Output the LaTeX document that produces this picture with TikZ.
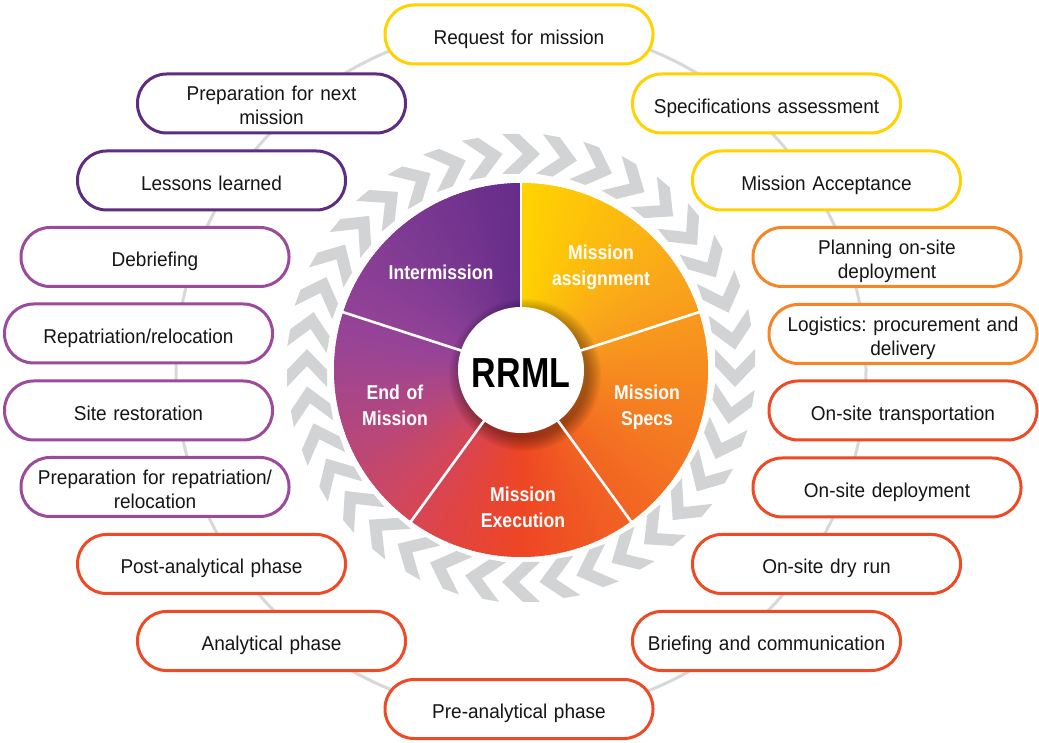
\documentclass[tikz,border=0pt]{standalone}
\usepackage{fontspec}
\newfontfamily\pillfont[FakeStretch=0.95]{Liberation Sans}
\newfontfamily\wedgefont[FakeStretch=0.88]{Liberation Sans}
\newfontfamily\rrmlfont[FakeStretch=0.81]{Liberation Sans}
\definecolor{g0}{HTML}{FFD400}
\definecolor{g1}{HTML}{F9A51B}
\definecolor{g2}{HTML}{F68B1F}
\definecolor{g3}{HTML}{F36F22}
\definecolor{g4}{HTML}{EE4624}
\definecolor{g5}{HTML}{E04444}
\definecolor{g6}{HTML}{CF4760}
\definecolor{g7}{HTML}{B4477E}
\definecolor{g8}{HTML}{984497}
\definecolor{g9}{HTML}{7E3A93}
\definecolor{g10}{HTML}{652D89}
\definecolor{cyel}{HTML}{FFD200}
\definecolor{corg}{HTML}{F58526}
\definecolor{cred}{HTML}{EE4A26}
\definecolor{cmag}{HTML}{9C4A9C}
\definecolor{cpur}{HTML}{5E2D82}
\definecolor{ringgray}{HTML}{D8D8D8}
\definecolor{chevgray}{HTML}{D1D3D4}
\definecolor{txt}{HTML}{151515}
\frenchspacing
\begin{document}
\begin{tikzpicture}[x=1pt,y=1pt,
  pill/.style={draw, line width=3pt, fill=white, rounded corners=29pt,
    minimum width=268pt, minimum height=59pt, inner sep=0pt},
  ptext/.style={font=\pillfont\fontsize{20}{24}\selectfont, text=txt,
    align=center, text width=262pt, inner sep=0pt, anchor=base},
  wtext/.style={font=\wedgefont\bfseries\fontsize{20}{26}\selectfont, text=white,
    align=center, text width=150pt, inner sep=0pt, anchor=base},
  chev/.style={fill=chevgray},
  sep/.style={draw=white, line width=2.6pt},
  ring/.style={draw=ringgray, line width=3pt}
]
\useasboundingbox (0,0) rectangle (1039,742);
\fill[white] (0,0) rectangle (1039,742);

% background ring
\draw[ring] (521,372) circle (345);

% chevrons
\foreach \k in {0,...,35}{
  \pgfmathsetmacro\rot{-10*\k}
  \begin{scope}[shift={(521,374)}, rotate=\rot]
    \fill[chev] (-19,234) -- (-2,234) -- (19,214) -- (-2,194) -- (-19,194) -- (2,214) -- cycle;
  \end{scope}
}

% pie with conic colouring
\foreach \a/\b/\ca/\cb in {0/60/g0/g1, 60/90/g1/g2, 90/130/g2/g3, 130/180/g3/g4,
   180/205/g4/g5, 205/225/g5/g6, 225/250/g6/g7, 250/280/g7/g8, 280/320/g8/g9, 320/360/g9/g10}{
  \pgfmathtruncatemacro\last{\b-1}
  \foreach \f in {\a,...,\last}{
    \pgfmathtruncatemacro\pct{100*(\f+0.5-\a)/(\b-\a)}
    \pgfmathsetmacro\sa{90-\f+0.3}
    \pgfmathsetmacro\ea{90-\f-1.3}
    \fill[\cb!\pct!\ca] (521,372) -- ++(\sa:187) arc[start angle=\sa, end angle=\ea, radius=187] -- cycle;
  }
}

% shadow of hub
\foreach \k in {0,...,11}{
  \fill[black, opacity=0.03] (525,367) circle ({63+\k*1.2});
}

% separators
\foreach \ang in {90,18,-54,-126,162}{
  \draw[sep] (521,372) -- ++(\ang:189);
}

% hub
\node[circle, fill=white, minimum size=126pt, inner sep=0pt] (hub) at (521,372) {};
\node[font=\rrmlfont\bfseries\fontsize{42}{42}\selectfont, text=black, inner sep=0pt] (rrml) at (521,369) {RRML};

% wedge labels
\node[wtext] (w1) at (601,482) {Mission\\assignment};
\node[wtext] (w2) at (647,342) {Mission\\Specs};
\node[wtext] (w3) at (523,240) {Mission\\Execution};
\node[wtext] (w4) at (395,342) {End of\\Mission};
\node[wtext] (w5) at (441,462.7) {Intermission};

% pills
\node[pill, draw=cyel] (p1) at (519,707.5) {};
\node[pill, draw=cyel] (p2) at (766.5,638.5) {};
\node[pill, draw=cyel] (p3) at (826.5,561.5) {};
\node[pill, draw=corg] (p4) at (887,485) {};
\node[pill, draw=corg] (p5) at (903,408) {};
\node[pill, draw=cred] (p6) at (903,331.5) {};
\node[pill, draw=cred] (p7) at (887,254.5) {};
\node[pill, draw=cred] (p8) at (826.5,178) {};
\node[pill, draw=cred] (p9) at (766.5,101) {};
\node[pill, draw=cred] (p10) at (519,33) {};
\node[pill, draw=cred] (p11) at (271.5,101) {};
\node[pill, draw=cred] (p12) at (211.5,178) {};
\node[pill, draw=cmag] (p13) at (155,255) {};
\node[pill, draw=cmag] (p14) at (138.5,331.5) {};
\node[pill, draw=cmag] (p15) at (138.5,408.5) {};
\node[pill, draw=cmag] (p16) at (155,485) {};
\node[pill, draw=cpur] (p17) at (211.5,561.5) {};
\node[pill, draw=cpur] (p18) at (271.5,638.5) {};

% pill texts
\node[ptext] (t1) at ([yshift=-9.8pt]p1.center) {Request for mission};
\node[ptext] (t2) at ([yshift=-9.8pt]p2.center) {Specifications assessment};
\node[ptext] (t3) at ([yshift=-9.8pt]p3.center) {Mission Acceptance};
\node[ptext] (t4) at ([yshift=2.5pt]p4.center) {Planning on-site\\deployment};
\node[ptext] (t5) at ([yshift=2.5pt]p5.center) {Logistics: procurement and\\delivery};
\node[ptext] (t6) at ([yshift=-9.8pt]p6.center) {On-site transportation};
\node[ptext] (t7) at ([yshift=-9.8pt]p7.center) {On-site deployment};
\node[ptext] (t8) at ([yshift=-9.8pt]p8.center) {On-site dry run};
\node[ptext] (t9) at ([yshift=-9.8pt]p9.center) {Briefing and communication};
\node[ptext] (t10) at ([yshift=-9.8pt]p10.center) {Pre-analytical phase};
\node[ptext] (t11) at ([yshift=-9.8pt]p11.center) {Analytical phase};
\node[ptext] (t12) at ([yshift=-9.8pt]p12.center) {Post-analytical phase};
\node[ptext] (t13) at ([yshift=2.5pt]p13.center) {Preparation for repatriation/\\relocation};
\node[ptext] (t14) at ([yshift=-9.8pt]p14.center) {Site restoration};
\node[ptext] (t15) at ([yshift=-9.8pt]p15.center) {Repatriation/relocation};
\node[ptext] (t16) at ([yshift=-9.8pt]p16.center) {Debriefing};
\node[ptext] (t17) at ([yshift=-9.8pt]p17.center) {Lessons learned};
\node[ptext] (t18) at ([yshift=2.5pt]p18.center) {Preparation for next\\mission};
\end{tikzpicture}
\end{document}
